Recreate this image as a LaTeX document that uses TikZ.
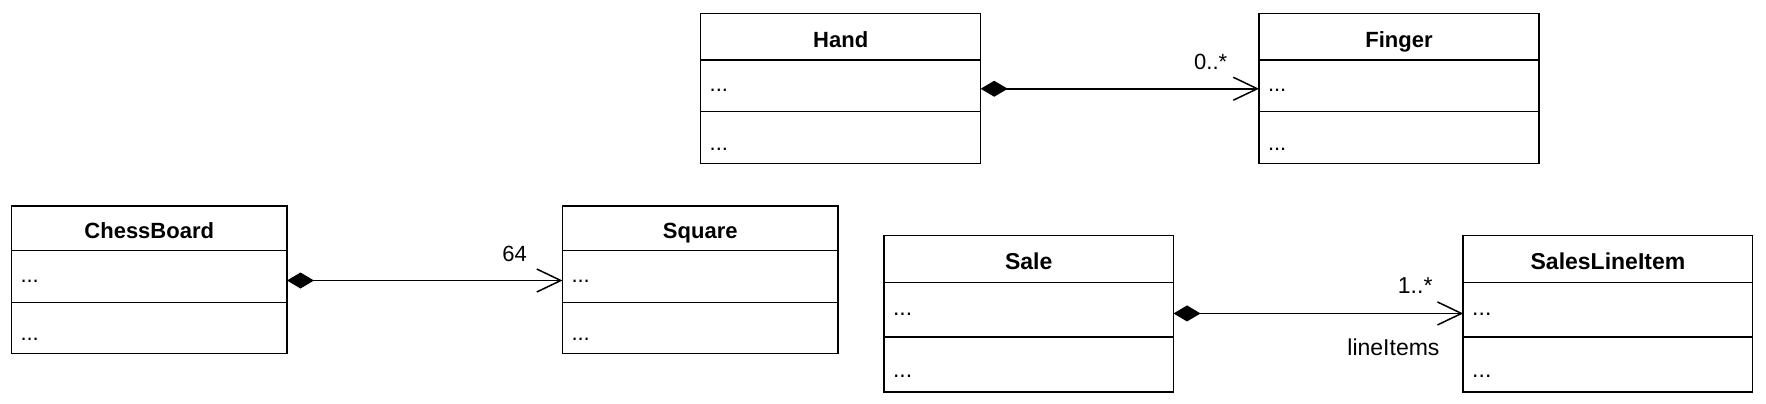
\documentclass[tikz,border=0pt]{standalone}
\usepackage{fontspec}
\setmainfont{Liberation Sans}
\usetikzlibrary{positioning, arrows.meta}
\tikzset{classname/.style 2 args={
          draw,
          rectangle,
          outer sep=0pt,
          anchor=north west,
          minimum width=#1,
          minimum height=#2,
          text height=22pt,
          text depth=1pt,
          execute at begin node=\bfseries
     }}
\tikzset{attrs/.style 2 args={
          draw,
          rectangle,
          outer sep=0pt,
          minimum width=#1,
          minimum height=#2,
          text width=#1-18pt,
          inner xsep=9pt,
          align=left,
          text height=13pt,
          text depth=2pt
     }}
\tikzset{opers/.style 2 args={
          attrs={#1}{#2},
          text height=25pt,
          text depth=0pt
     }}
\tikzstyle{composition} = [{Diamond[length=27pt,width=16pt]}-{Straight Barb[length=24pt,width=23pt]}]
\tikzstyle{mult} = [inner sep=0pt, pos=1]

\begin{document}
\begin{tikzpicture}[x=1pt, y=-1pt, line width=1.5pt, font=\fontsize{22}{26}\selectfont]
\useasboundingbox (0,0) rectangle (1766,404);

% hand and fingers
\node (hand) [classname={280}{46.5}] at (700.7,13.5) {Hand};
\node (handattr) [attrs={280}{51.5}, below=0pt of hand] {...};
\node (handops) [opers={280}{52}, below=0pt of handattr] {...};
\node (finger) [classname={280}{46.5}] at (1259,13.5) {Finger};
\node (fingerattr) [attrs={280}{51.5}, below=0pt of finger] {...};
\node (fingerops) [opers={280}{52}, below=0pt of fingerattr] {...};

% chess board and squares
\node (board) [classname={275.5}{44.5}] at (11.5,206) {ChessBoard};
\node (boardattr) [attrs={275.5}{52}, below=0pt of board] {...};
\node (boardops) [opers={275.5}{51}, below=0pt of boardattr] {...};
\node (square) [classname={275.5}{44.5}] at (562.5,206) {Square};
\node (squareattr) [attrs={275.5}{52}, below=0pt of square] {...};
\node (squareops) [opers={275.5}{51}, below=0pt of squareattr] {...};

\draw [composition] ([yshift=-3pt]handattr.east) -- ([yshift=-3pt]fingerattr.west) node[mult, anchor=base east, xshift=-31pt, yshift=19pt] {0..*};
\draw [composition] ([yshift=-4pt]boardattr.east) -- ([yshift=-4pt]squareattr.west) node[mult, anchor=base east, xshift=-35pt, yshift=19pt] {64};

% sale and line items
\begin{scope}[font=\fontsize{23}{27}\selectfont]
\node (sale) [classname={289.5}{47}] at (884,235.7) {Sale};
\node (saleattr) [attrs={289.5}{54.5}, below=0pt of sale] {...};
\node (saleops) [opers={289.5}{55}, below=0pt of saleattr] {...};
\node (item) [classname={289.5}{47}] at (1463.2,235.7) {SalesLineItem};
\node (itemattr) [attrs={289.5}{54.5}, below=0pt of item] {...};
\node (itemops) [opers={289.5}{55}, below=0pt of itemattr] {...};

\draw [composition] ([yshift=-3.5pt]saleattr.east) -- ([yshift=-3.5pt]itemattr.west)
  node[mult, anchor=base east, xshift=-30pt, yshift=20pt] {1..*}
  node[mult, anchor=north east, xshift=-23pt, yshift=-25pt] {lineItems};
\end{scope}
\end{tikzpicture}
\end{document}
